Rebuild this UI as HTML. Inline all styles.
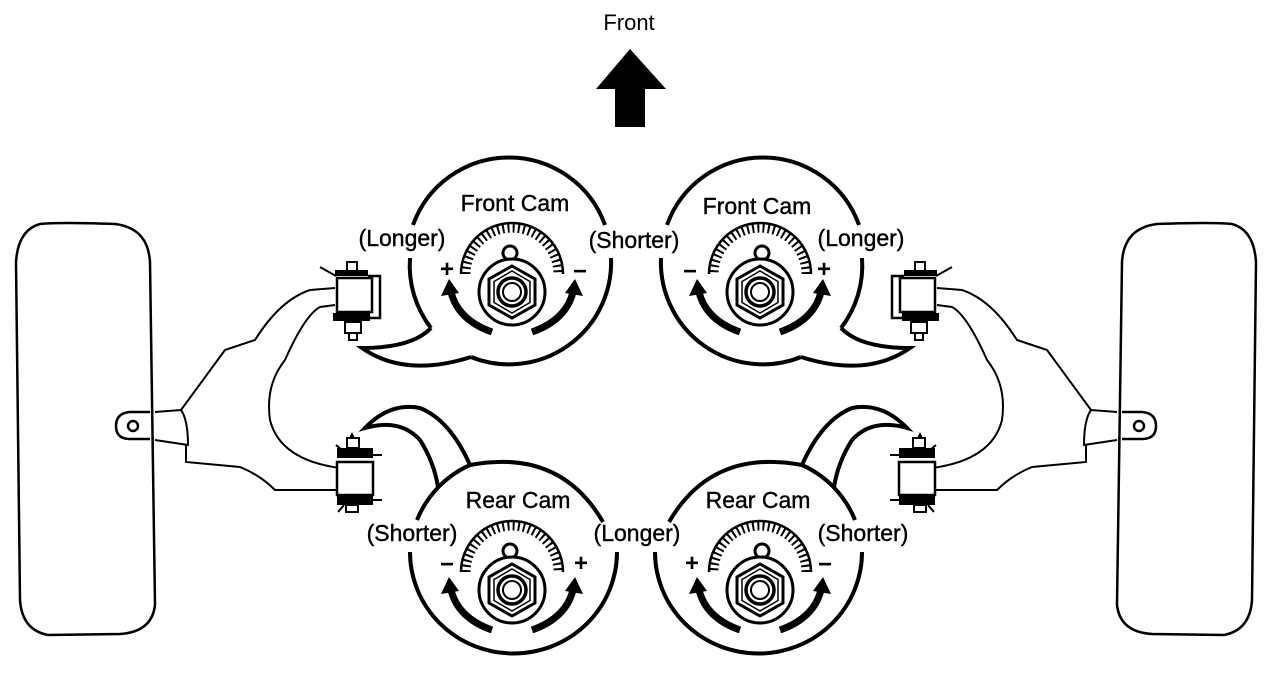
<!DOCTYPE html>
<html><head><meta charset="utf-8"><style>
html,body{margin:0;padding:0;background:#fff;}
svg{display:block;}
text{font-family:"Liberation Sans",Arial,sans-serif;fill:#000;}
</style></head><body>
<svg width="1280" height="680" viewBox="0 0 1280 680" xmlns="http://www.w3.org/2000/svg">
<defs>
<g id="dial">
  <path d="M461,274 A51,51 0 0 1 563,274" fill="none" stroke="#000" stroke-width="2.5"/>
  <path d="M466,274 A46,46 0 0 1 558,274" fill="none" stroke="#000" stroke-width="9" stroke-dasharray="2 3.2"/>
  <circle cx="510" cy="253" r="7" fill="#fff" stroke="#000" stroke-width="3"/>
  <circle cx="512" cy="292" r="33" fill="#fff" stroke="#000" stroke-width="3"/>
  <path d="M512,266 L535,279 L535,305 L512,318 L489,305 L489,279 Z" fill="#fff" stroke="#000" stroke-width="3"/>
  <path d="M512,271 L530,281.5 L530,302.5 L512,313 L494,302.5 L494,281.5 Z" fill="none" stroke="#000" stroke-width="1.5"/>
  <circle cx="512" cy="292" r="14" fill="none" stroke="#000" stroke-width="3.5"/>
  <circle cx="512" cy="292" r="9" fill="none" stroke="#000" stroke-width="2"/>
  <path d="M492,332 Q458,320 451,292" fill="none" stroke="#000" stroke-width="7"/>
  <polygon points="441,296 459,293 449,279" fill="#000"/>
  <path d="M532,332 Q566,320 573,292" fill="none" stroke="#000" stroke-width="7"/>
  <polygon points="565,293 583,296 575,279" fill="#000"/>
</g>
<g id="side">
  <path d="M40,224 Q60,222 115,224 Q148,228 150,262 L155,605 Q152,632 120,634 L48,635 Q22,630 20,600 L16,262 Q18,230 40,224 Z" fill="none" stroke="#000" stroke-width="2.5"/>
  <path d="M150,412 L130,412 Q116,413 116,426 Q116,439 130,439 L150,439" fill="none" stroke="#000" stroke-width="2.5"/>
  <circle cx="133" cy="426" r="5" fill="none" stroke="#000" stroke-width="2.5"/>
  <path d="M155,412 L181,410 Q188,420 188,445 L155,440" fill="none" stroke="#000" stroke-width="2"/>
  <path d="M335,288 L310,290 Q280,300 255,340 L225,350 L181,410" fill="none" stroke="#000" stroke-width="2"/>
  <path d="M335,305 L320,307 Q305,315 285,360 Q265,385 270,420 Q280,460 340,468" fill="none" stroke="#000" stroke-width="2"/>
  <path d="M186,445 L186,462 L240,467 Q260,475 275,490 L338,490" fill="none" stroke="#000" stroke-width="2"/>
  <rect x="347" y="262" width="10" height="9" fill="#fff" stroke="#000" stroke-width="2"/>
  <rect x="335" y="270" width="33" height="6" fill="#000"/>
  <path d="M320,267 L336,276" stroke="#000" stroke-width="2"/>
  <rect x="337" y="278" width="35" height="34" fill="#fff" stroke="#000" stroke-width="2.5"/>
  <path d="M368,276 L380,276 L380,318 L368,318" fill="none" stroke="#000" stroke-width="2.5"/>
  <rect x="333" y="313" width="37" height="8" fill="#000"/>
  <rect x="345" y="322" width="16" height="11" fill="#fff" stroke="#000" stroke-width="2"/>
  <rect x="349" y="333" width="8" height="7" fill="#fff" stroke="#000" stroke-width="2"/>
  <path d="M348,440 L352,432 L356,440" fill="#000"/>
  <rect x="347" y="438" width="12" height="10" fill="#fff" stroke="#000" stroke-width="2"/>
  <rect x="337" y="448" width="36" height="10" fill="#000"/>
  <path d="M373,455 L382,455 M373,500 L382,500 M336,445 L342,450 M338,512 L344,505" stroke="#000" stroke-width="2"/>
  <rect x="337" y="462" width="36" height="33" fill="#fff" stroke="#000" stroke-width="2.5"/>
  <rect x="337" y="495" width="36" height="10" fill="#000"/>
  <rect x="346" y="505" width="12" height="7" fill="#fff" stroke="#000" stroke-width="2"/>
  <g fill="none" stroke="#000" stroke-width="4">
    <path d="M413,225 A102,102 0 0 1 605,225"/>
    <path d="M611,258 A102,102 0 0 1 471,357"/>
    <path d="M410,258 A102,102 0 0 0 431,328"/>
    <path d="M431,328 Q412,348 362,348 Q405,378 471,357"/>
  </g>
  <use href="#dial"/>
  <g fill="none" stroke="#000" stroke-width="4">
    <path d="M417,520 A102,102 0 0 1 470,465"/>
    <path d="M470,465 Q450,420 420,408 Q390,402 365,428 Q400,418 420,440 Q434,462 438,487"/>
    <path d="M470,465 Q560,448 603,522"/>
    <path d="M617,552 A102,100 0 1 1 410,552"/>
  </g>
  <use href="#dial" transform="translate(0,298)"/>
</g>
</defs>
<use href="#side"/>
<use href="#side" transform="translate(1272,0) scale(-1,1)"/>
<text x="629" y="30" font-size="22" text-anchor="middle">Front</text>
<polygon points="630,49 666,89 645,89 645,127 615,127 615,89 596,89" fill="#000"/>
<g font-size="23" stroke="#000" stroke-width="0.4">
<text x="515" y="211" text-anchor="middle">Front Cam</text>
<text x="757" y="214" text-anchor="middle">Front Cam</text>
<text x="402" y="246" text-anchor="middle">(Longer)</text>
<text x="634" y="248" text-anchor="middle">(Shorter)</text>
<text x="861" y="246" text-anchor="middle">(Longer)</text>
<text x="518" y="508" text-anchor="middle">Rear Cam</text>
<text x="758" y="508" text-anchor="middle">Rear Cam</text>
<text x="412" y="541" text-anchor="middle">(Shorter)</text>
<text x="637" y="541" text-anchor="middle">(Longer)</text>
<text x="863" y="541" text-anchor="middle">(Shorter)</text>
</g>
<g font-size="24" font-weight="bold" text-anchor="middle">
<text x="447" y="277">+</text>
<text x="580" y="279">−</text>
<text x="690" y="279">−</text>
<text x="824" y="277">+</text>
<text x="447" y="572">−</text>
<text x="581" y="571">+</text>
<text x="692" y="571">+</text>
<text x="825" y="572">−</text>
</g>
</svg>
</body></html>
